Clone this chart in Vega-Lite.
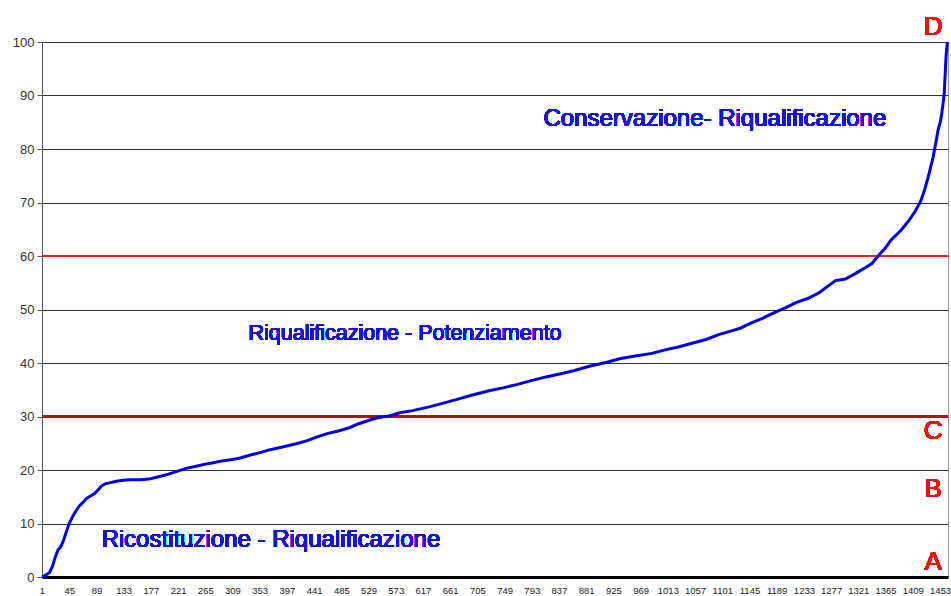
{
  "$schema": "https://vega.github.io/schema/vega-lite/v6.json",
  "autosize": {"type": "none"},
  "padding": {"left": 42, "top": 42, "right": 3, "bottom": 19},
  "width": 906,
  "height": 535,
  "background": "white",
  "config": {
    "view": {"stroke": "#999", "strokeWidth": 1},
    "font": "Liberation Sans",
    "axis": {"labelFont": "Liberation Sans", "title": null},
    "text": {"fontWeight": "normal"}
  },
  "data": {
    "values": [
      {"n": 1, "v": 0}, {"n": 6, "v": 0.3}, {"n": 13, "v": 0.8}, {"n": 18, "v": 2.0},
      {"n": 21, "v": 3.2}, {"n": 24, "v": 4.2}, {"n": 27, "v": 5.1}, {"n": 31, "v": 5.6},
      {"n": 35, "v": 6.6}, {"n": 40, "v": 8.3}, {"n": 45, "v": 10.0}, {"n": 50, "v": 11.2},
      {"n": 55, "v": 12.2}, {"n": 60, "v": 13.1}, {"n": 66, "v": 13.8}, {"n": 73, "v": 14.7},
      {"n": 80, "v": 15.2}, {"n": 86, "v": 15.6}, {"n": 92, "v": 16.3}, {"n": 97, "v": 17.0},
      {"n": 103, "v": 17.4}, {"n": 110, "v": 17.6}, {"n": 121, "v": 17.9}, {"n": 132, "v": 18.1},
      {"n": 145, "v": 18.2}, {"n": 160, "v": 18.2}, {"n": 174, "v": 18.3}, {"n": 188, "v": 18.7},
      {"n": 202, "v": 19.1}, {"n": 218, "v": 19.7}, {"n": 234, "v": 20.3}, {"n": 250, "v": 20.7},
      {"n": 265, "v": 21.1}, {"n": 276, "v": 21.3}, {"n": 292, "v": 21.7}, {"n": 306, "v": 21.9},
      {"n": 320, "v": 22.2}, {"n": 338, "v": 22.8}, {"n": 355, "v": 23.3}, {"n": 370, "v": 23.8},
      {"n": 390, "v": 24.3}, {"n": 412, "v": 24.9}, {"n": 430, "v": 25.5}, {"n": 446, "v": 26.2},
      {"n": 462, "v": 26.8}, {"n": 480, "v": 27.3}, {"n": 498, "v": 27.9}, {"n": 512, "v": 28.6},
      {"n": 530, "v": 29.3}, {"n": 545, "v": 29.8}, {"n": 562, "v": 30.1}, {"n": 580, "v": 30.7},
      {"n": 600, "v": 31.1}, {"n": 627, "v": 31.8}, {"n": 650, "v": 32.5}, {"n": 672, "v": 33.2},
      {"n": 700, "v": 34.1}, {"n": 724, "v": 34.8}, {"n": 748, "v": 35.4}, {"n": 770, "v": 36.0},
      {"n": 792, "v": 36.7}, {"n": 816, "v": 37.4}, {"n": 840, "v": 38.0}, {"n": 862, "v": 38.6},
      {"n": 886, "v": 39.4}, {"n": 913, "v": 40.1}, {"n": 935, "v": 40.8}, {"n": 960, "v": 41.3},
      {"n": 987, "v": 41.8}, {"n": 1010, "v": 42.5}, {"n": 1030, "v": 43.0}, {"n": 1052, "v": 43.7},
      {"n": 1075, "v": 44.4}, {"n": 1095, "v": 45.3}, {"n": 1116, "v": 46.0}, {"n": 1130, "v": 46.5},
      {"n": 1148, "v": 47.5}, {"n": 1165, "v": 48.3}, {"n": 1185, "v": 49.4}, {"n": 1203, "v": 50.3},
      {"n": 1220, "v": 51.3}, {"n": 1240, "v": 52.1}, {"n": 1257, "v": 53.1}, {"n": 1270, "v": 54.2},
      {"n": 1284, "v": 55.4}, {"n": 1300, "v": 55.7}, {"n": 1316, "v": 56.7}, {"n": 1332, "v": 57.8},
      {"n": 1343, "v": 58.6}, {"n": 1353, "v": 60.0}, {"n": 1364, "v": 61.4}, {"n": 1374, "v": 63.0},
      {"n": 1390, "v": 64.8}, {"n": 1402, "v": 66.5}, {"n": 1412, "v": 68.2}, {"n": 1422, "v": 70.3},
      {"n": 1428, "v": 72.3}, {"n": 1434, "v": 74.8}, {"n": 1438, "v": 76.6}, {"n": 1442, "v": 78.5},
      {"n": 1446, "v": 81.0}, {"n": 1450, "v": 83.6}, {"n": 1454, "v": 85.3}, {"n": 1456, "v": 86.7},
      {"n": 1458, "v": 88.5}, {"n": 1460, "v": 90.5}, {"n": 1461, "v": 93.0}, {"n": 1462, "v": 95.3},
      {"n": 1463, "v": 97.6}, {"n": 1465, "v": 100}
    ]
  },
  "layer": [
    {
      "mark": {"type": "rule", "color": "#b81212", "strokeWidth": 2.5},
      "encoding": {"y": {"datum": 30, "type": "quantitative"}}
    },
    {
      "mark": {"type": "rule", "color": "#ff1a1a", "strokeWidth": 2},
      "encoding": {"y": {"datum": 60, "type": "quantitative"}}
    },
    {
      "mark": {"type": "line", "color": "#0000ee", "strokeWidth": 3, "clip": false},
      "encoding": {
        "x": {
          "field": "n", "type": "quantitative",
          "scale": {"domain": [1, 1466], "nice": false, "zero": false},
          "axis": {
            "values": [1, 45, 89, 133, 177, 221, 265, 309, 353, 397, 441, 485, 529, 573, 617, 661, 705, 749, 793, 837, 881, 925, 969, 1013, 1057, 1101, 1145, 1189, 1233, 1277, 1321, 1365, 1409, 1453],
            "tickCount": 60,
            "format": "d",
            "grid": false, "ticks": false, "domainColor": "#000000", "domainWidth": 3,
            "labelFontSize": 9.5, "labelColor": "#222222", "labelPadding": 8,
            "labelFlush": false, "labelOverlap": false, "labelBound": false
          }
        },
        "y": {
          "field": "v", "type": "quantitative",
          "scale": {"domain": [0, 100], "nice": false},
          "axis": {
            "values": [0, 10, 20, 30, 40, 50, 60, 70, 80, 90, 100],
            "tickCount": 20,
            "grid": true, "gridColor": "#333333", "gridWidth": 1, "gridOpacity": 1,
            "domainColor": "#555555", "tickColor": "#555555", "tickSize": 5,
            "labelFontSize": 13, "labelColor": "#333333", "labelPadding": 3
          }
        }
      }
    },
    {
      "mark": {"type": "text", "text": "Ricostituzione - Riqualificazione", "fontSize": 24, "fontWeight": 300, "color": "#1414d8", "align": "center", "baseline": "alphabetic", "font": "Liberation Sans"},
      "encoding": {"x": {"datum": 371, "type": "quantitative"}, "y": {"datum": 5.55, "type": "quantitative"}}
    },
    {
      "mark": {"type": "text", "text": "Riqualificazione - Potenziamento", "fontSize": 21.5, "fontWeight": 300, "color": "#1414d8", "align": "center", "baseline": "alphabetic", "font": "Liberation Sans"},
      "encoding": {"x": {"datum": 588, "type": "quantitative"}, "y": {"datum": 44.3, "type": "quantitative"}}
    },
    {
      "mark": {"type": "text", "text": "Conservazione- Riqualificazione", "fontSize": 24, "fontWeight": 300, "color": "#1414d8", "align": "center", "baseline": "alphabetic", "font": "Liberation Sans"},
      "encoding": {"x": {"datum": 1089, "type": "quantitative"}, "y": {"datum": 84.3, "type": "quantitative"}}
    },
    {
      "mark": {"type": "text", "text": "D", "fontSize": 26, "fontWeight": 300, "color": "#ee1111", "align": "center", "baseline": "alphabetic", "font": "Liberation Sans"},
      "encoding": {"x": {"datum": 1442, "type": "quantitative"}, "y": {"datum": 101.3, "type": "quantitative"}}
    },
    {
      "mark": {"type": "text", "text": "C", "fontSize": 26, "fontWeight": 300, "color": "#ee1111", "align": "center", "baseline": "alphabetic", "font": "Liberation Sans"},
      "encoding": {"x": {"datum": 1442, "type": "quantitative"}, "y": {"datum": 25.8, "type": "quantitative"}}
    },
    {
      "mark": {"type": "text", "text": "B", "fontSize": 26, "fontWeight": 300, "color": "#ee1111", "align": "center", "baseline": "alphabetic", "font": "Liberation Sans"},
      "encoding": {"x": {"datum": 1442, "type": "quantitative"}, "y": {"datum": 15.0, "type": "quantitative"}}
    },
    {
      "mark": {"type": "text", "text": "A", "fontSize": 26, "fontWeight": 300, "color": "#ee1111", "align": "center", "baseline": "alphabetic", "font": "Liberation Sans"},
      "encoding": {"x": {"datum": 1442, "type": "quantitative"}, "y": {"datum": 1.3, "type": "quantitative"}}
    }
  ]
}
